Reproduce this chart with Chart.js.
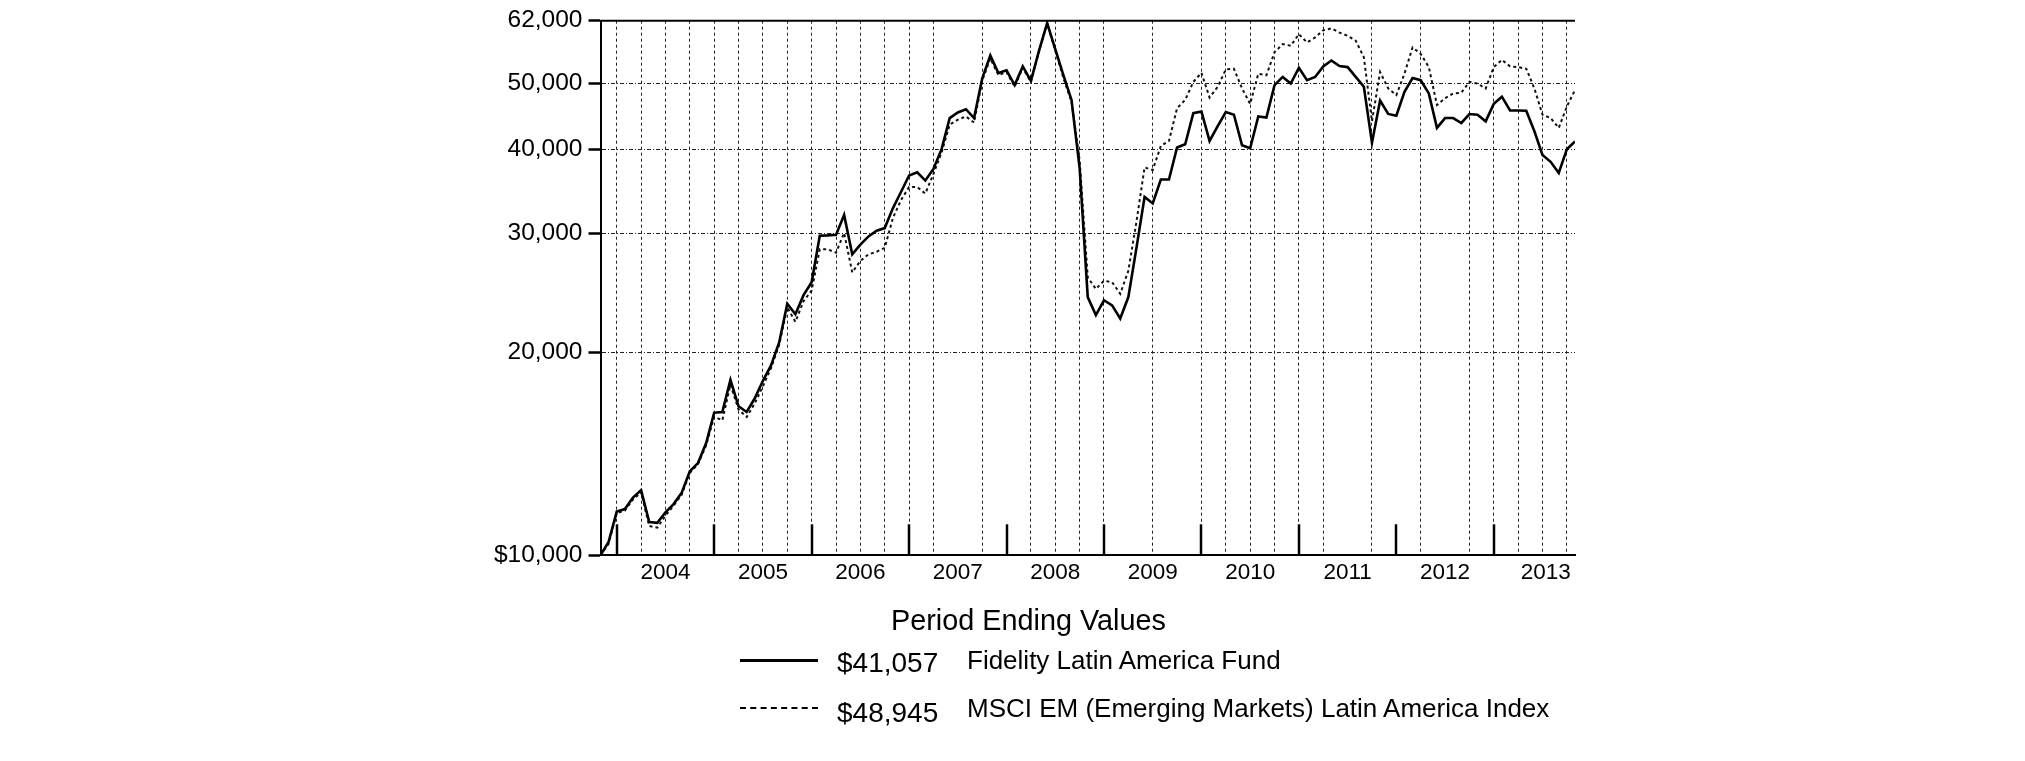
<!DOCTYPE html>
<html>
<head>
<meta charset="utf-8">
<script src="https://cdn.jsdelivr.net/npm/chart.js@4/dist/chart.umd.min.js"></script>
<style>
  body { margin: 0; background: #fff; }
  #wrap { position: relative; width: 2025px; height: 761px; }
  #chart { position: absolute; left: 0; top: 0; }
  .txt { position: absolute; white-space: nowrap; color: #000; font-family: "Liberation Sans", Arial, sans-serif; }
  .swatch { position: absolute; height: 0; }
</style>
</head>
<body>
<div id="wrap">
  <canvas id="chart" width="2025" height="761"></canvas>
  <div class="txt" style="left:891px; top:604px; font-size:28.8px; line-height:32px;">Period Ending Values</div>
  <div class="swatch" style="left:740px; top:659px; width:78px; border-top:3px solid #000;"></div>
  <div class="txt" style="left:837px; top:646px; font-size:28px; line-height:34px;">$41,057</div>
  <div class="txt" style="left:967px; top:645px; font-size:26px; line-height:30px;">Fidelity Latin America Fund</div>
  <div class="swatch" style="left:740px; top:707px; width:78px; border-top:2px dashed #000;"></div>
  <div class="txt" style="left:837px; top:696px; font-size:28px; line-height:34px;">$48,945</div>
  <div class="txt" style="left:967px; top:693px; font-size:26px; line-height:30px;">MSCI EM (Emerging Markets) Latin America Index</div>
</div>
<script>
// monthly period-ending values, Oct 2003 .. Oct 2013 (index 0 .. 120)
const fundValues = [
  10000, 10470, 11610, 11710, 12180, 12490, 11200, 11170, 11580, 11910,
  12380, 13320, 13700, 14660, 16270, 16310, 18200, 16630, 16310, 17090,
  18140, 19120, 20680, 23600, 22770, 24300, 25390, 29770, 29800, 29850,
  31950, 27930, 28880, 29690, 30270, 30550, 32680, 34550, 36550, 36960,
  35930, 37380, 39990, 44470, 45330, 45840, 44470, 50880, 55050, 51860,
  52340, 49760, 53050, 50480, 55980, 61500, 56280, 51470, 47310, 37500,
  24140, 22700, 23880, 23470, 22440, 24140, 28560, 33980, 33230, 36060,
  36060, 40220, 40670, 45220, 45490, 41130, 43250, 45400, 44980, 40530,
  40120, 44720, 44550, 49760, 51170, 50030, 52800, 50600, 51170, 53050,
  54130, 53100, 52920, 51170, 49480, 40880, 47200, 45100, 44830, 48650,
  50990, 50600, 48370, 43000, 44470, 44470, 43730, 45080, 44980, 43980,
  46680, 47840, 45640, 45640, 45600, 42520, 39190, 38300, 36880, 39990,
  41057
];
const indexValues = [
  10000, 10400, 11550, 11650, 12100, 12400, 11050, 10990, 11450, 11850,
  12300, 13250, 13650, 14550, 16050, 15850, 17900, 16450, 16030, 16800,
  17800, 18950, 20500, 23300, 22190, 23800, 24690, 28410, 28410, 28090,
  30040, 26260, 27310, 27930, 28180, 28560, 31600, 33610, 35140, 35140,
  34370, 36750, 39540, 43480, 44220, 44720, 43800, 50500, 54500, 51500,
  52000, 49500, 52800, 50300, 55800, 61500, 56000, 51000, 47000, 38500,
  25820, 24820, 25530, 25400, 24410, 26400, 31240, 37580, 37240, 40440,
  41130, 46000, 47310, 50310, 51900, 47700, 49480, 52500, 52620, 49200,
  46680, 51740, 51470, 55670, 57240, 56920, 59210, 57560, 58550, 60000,
  60400, 59530, 58880, 57900, 54740, 44000, 52030, 49200, 48100, 51740,
  56600, 55340, 52920, 46510, 47570, 48370, 48500, 50310, 50030, 49200,
  52920, 54240, 53050, 52920, 52620, 49200, 44980, 44470, 43000, 46270,
  48945
];

const yTicks = [10000, 20000, 30000, 40000, 50000, 62000];
const yTickLabels = ['$10,000', '20,000', '30,000', '40,000', '50,000', '62,000'];
const yearLabels = ['2004', '2005', '2006', '2007', '2008', '2009', '2010', '2011', '2012', '2013'];
const yearLabelPos = [8, 20, 32, 44, 56, 68, 80, 92, 104, 116.4];
const yearTickPos = [2, 14, 26, 38, 50, 62, 74, 86, 98, 110];
const gridPos = [2, 5, 8, 11, 14, 17, 20, 23, 26, 29, 32, 35, 38, 41, 47, 53, 56, 59, 62, 68,
                 74, 77, 80, 83, 86, 89, 95, 101, 107, 110, 113, 116, 119];

const FONT = '"Liberation Sans", Arial, sans-serif';

// top frame line and the solid year ticks standing on the x axis
const frameTicks = {
    id: 'frameTicks',
    afterDatasetsDraw(chart) {
        const { ctx, chartArea, scales } = chart;
        ctx.save();
        ctx.strokeStyle = '#000';
        ctx.lineWidth = 2;
        ctx.beginPath();
        ctx.moveTo(chartArea.left, chartArea.top);
        ctx.lineTo(chartArea.right, chartArea.top);
        ctx.stroke();

        ctx.lineWidth = 2.5;
        yearTickPos.forEach(v => {
            const x = Math.round(scales.x.getPixelForValue(v));
            ctx.beginPath();
            ctx.moveTo(x, chartArea.bottom);
            ctx.lineTo(x, chartArea.bottom - 31);
            ctx.stroke();
        });
        ctx.restore();
    }
};

new Chart(document.getElementById('chart'), {
    type: 'line',
    data: {
        datasets: [{
            label: 'Fidelity Latin America Fund',
            data: fundValues.map((v, i) => ({ x: i, y: v })),
            borderColor: '#000',
            borderWidth: 2.6,
            pointRadius: 0,
            tension: 0
        }, {
            label: 'MSCI EM (Emerging Markets) Latin America Index',
            data: indexValues.map((v, i) => ({ x: i, y: v })),
            borderColor: '#111',
            borderWidth: 2,
            borderDash: [3, 3],
            pointRadius: 0,
            tension: 0
        }]
    },
    options: {
        responsive: false,
        animation: false,
        devicePixelRatio: 1,
        layout: { padding: { left: 0, right: 450, top: 12.9, bottom: 0 } },
        plugins: {
            legend: { display: false },
            tooltip: { enabled: false }
        },
        scales: {
            x: {
                type: 'linear',
                min: 0,
                max: 120,
                weight: 0,
                afterBuildTicks: s => { s.ticks = gridPos.map(v => ({ value: v })); },
                afterFit: s => { s.height = 0; },
                ticks: { display: false },
                grid: { color: '#222', lineWidth: 1, drawTicks: false },
                border: { display: true, color: '#000', width: 2, dash: [3, 3] }
            },
            xYears: {
                type: 'linear',
                position: 'bottom',
                min: 0,
                max: 120,
                weight: 1,
                afterBuildTicks: s => { s.ticks = yearLabelPos.map(v => ({ value: v })); },
                afterFit: s => { s.height = 761 - 555.3; },
                ticks: {
                    autoSkip: false,
                    maxRotation: 0,
                    padding: 4,
                    color: '#000',
                    font: { family: FONT, size: 22.5 },
                    callback: (v, i) => yearLabels[i]
                },
                grid: { display: false, drawTicks: false },
                border: { display: false }
            },
            y: {
                type: 'logarithmic',
                min: 10000,
                max: 62000,
                afterBuildTicks: s => { s.ticks = yTicks.map(v => ({ value: v })); },
                afterFit: s => { s.width = 600.5; },
                ticks: {
                    padding: 6,
                    color: '#000',
                    font: { family: FONT, size: 24.5 },
                    callback: (v, i) => yTickLabels[i]
                },
                grid: {
                    color: '#222',
                    lineWidth: 1,
                    tickLength: 12,
                    tickWidth: 2.5,
                    tickColor: '#000',
                    tickBorderDash: []
                },
                border: { color: '#000', width: 2, dash: [4, 2, 1, 2] }
            }
        }
    },
    plugins: [frameTicks]
});
</script>
</body>
</html>
